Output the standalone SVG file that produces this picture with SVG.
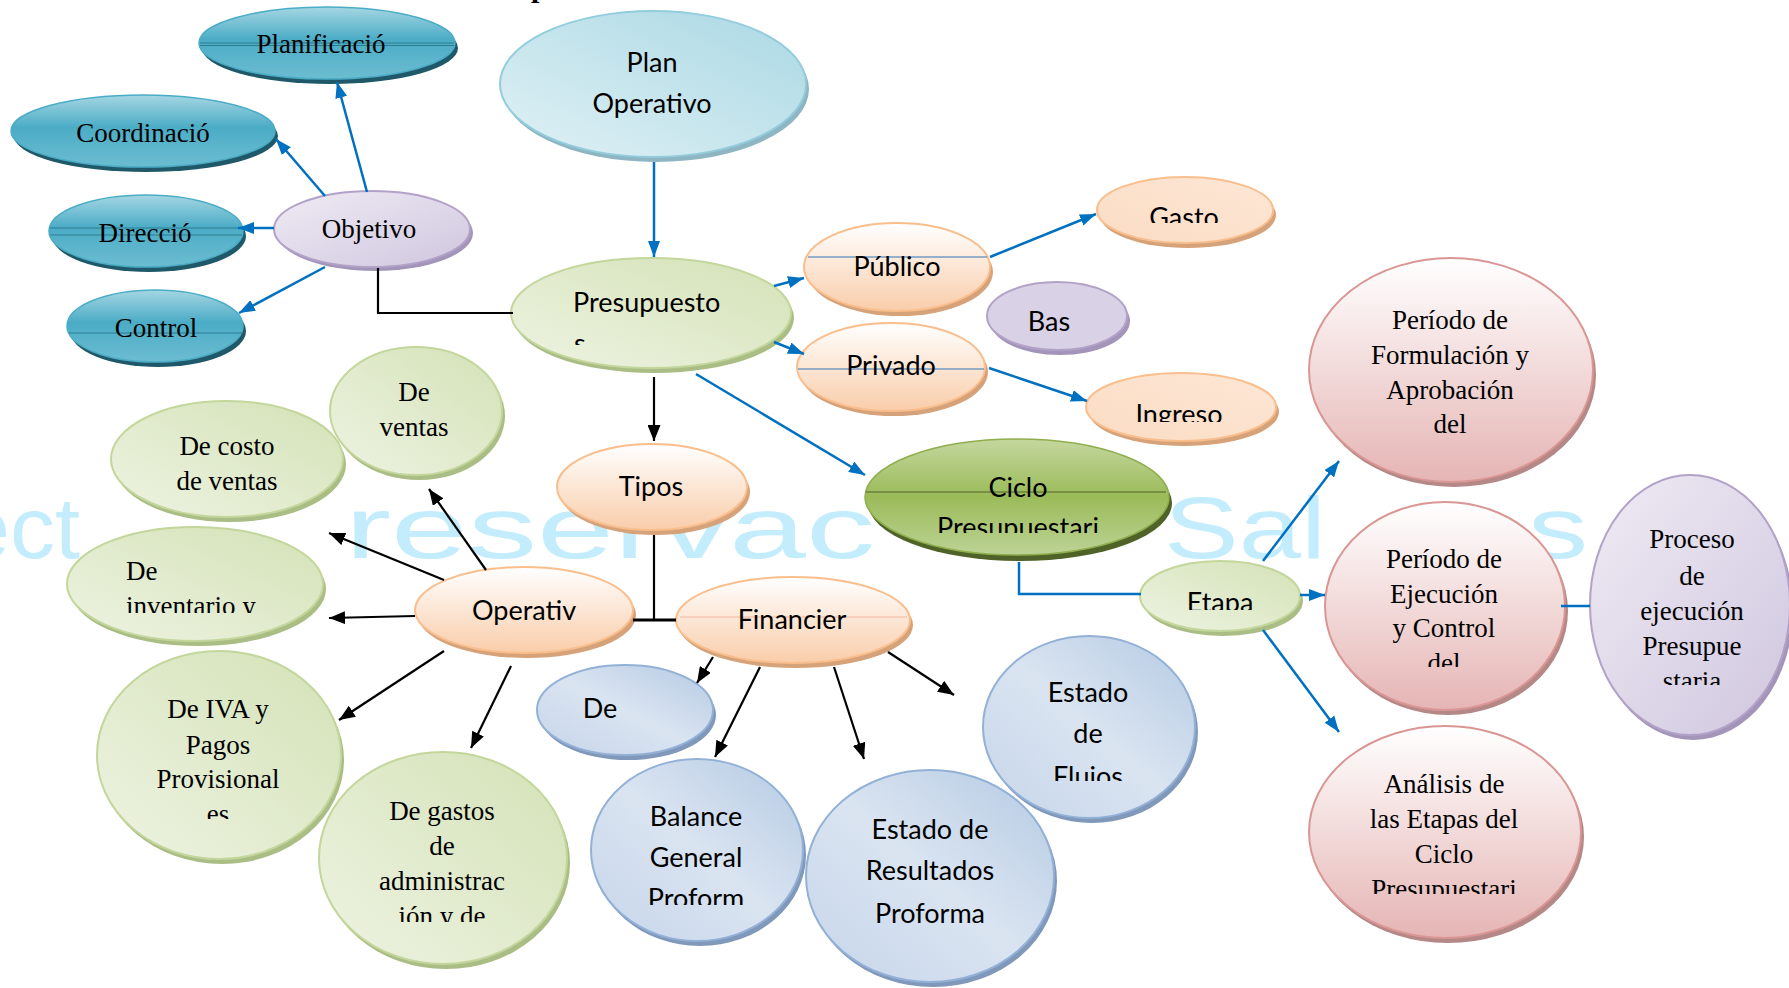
<svg xmlns="http://www.w3.org/2000/svg" width="1789" height="988" viewBox="0 0 1789 988">
<style>
.wm{font-family:"Liberation Sans",Arial,sans-serif;font-size:88px;fill:#C3ECFC}
.sf{font-family:"Liberation Serif","Times New Roman",serif;font-size:27px;fill:#000;text-anchor:middle}
.ss{font-family:Lato,"Liberation Sans",sans-serif;font-size:27px;fill:#000;text-anchor:middle}
.st{text-anchor:start}
.blue{stroke:#0070C0;stroke-width:2.5;fill:none}
.blk{stroke:#000;stroke-width:2.2;fill:none}
.ab{marker-end:url(#hb)}
.ak{marker-end:url(#hk)}
.teal{fill:url(#gTeal);stroke:#4BACC6;stroke-width:1.5}
.sh-teal{fill:#1F5868}
.lav{fill:url(#gLav);stroke:#B3A2C7;stroke-width:2}
.sh-lav{fill:#A394B9}
.lblue{fill:url(#gLblue);stroke:#93CDDD;stroke-width:2}
.sh-lblue{fill:#8EB6C2}
.lgreen{fill:url(#gLgreen);stroke:#C3D69B;stroke-width:2}
.sh-lgreen{fill:#A9BD84}
.peach{fill:url(#gPeach);stroke:#F9BE8C;stroke-width:2}
.peach2{fill:url(#gPeach2);stroke:#F9BE8C;stroke-width:2}
.sh-peach{fill:#D6A27A}
.green{fill:url(#gGreen);stroke:#8FAE4E;stroke-width:1.5}
.sh-green{fill:#4F6228}
.bl{fill:url(#gBlue);stroke:#93B1D6;stroke-width:2}
.sh-bl{fill:#8099BA}
.pink{fill:url(#gPink);stroke:#D99694;stroke-width:2}
.sh-pink{fill:#B48886}
.rule{stroke-width:1;fill:none}
</style>
<defs>
<linearGradient id="gTeal" x1="0" y1="0" x2="0" y2="1"><stop offset="0" stop-color="#A5D6E3"/><stop offset="0.45" stop-color="#4BACC6"/><stop offset="1" stop-color="#6CBDD1"/></linearGradient>
<linearGradient id="gLav" x1="0" y1="0" x2="1" y2="1"><stop offset="0" stop-color="#EFEBF4"/><stop offset="1" stop-color="#D0C6DF"/></linearGradient>
<linearGradient id="gLblue" x1="0" y1="1" x2="1" y2="0"><stop offset="0" stop-color="#E0F1F5"/><stop offset="1" stop-color="#AAD8E4"/></linearGradient>
<linearGradient id="gLgreen" x1="0" y1="1" x2="1" y2="0"><stop offset="0" stop-color="#EEF3E2"/><stop offset="1" stop-color="#D3E2B6"/></linearGradient>
<linearGradient id="gPeach" x1="0" y1="0" x2="0" y2="1"><stop offset="0" stop-color="#FFFFFF"/><stop offset="1" stop-color="#F9CDAA"/></linearGradient>
<linearGradient id="gPeach2" x1="0" y1="1" x2="1" y2="0"><stop offset="0" stop-color="#FBDCC3"/><stop offset="1" stop-color="#FDE7D6"/></linearGradient>
<linearGradient id="gGreen" x1="0" y1="0" x2="0" y2="1"><stop offset="0" stop-color="#C4D79E"/><stop offset="0.5" stop-color="#9BBB59"/><stop offset="1" stop-color="#BDD396"/></linearGradient>
<linearGradient id="gBlue" x1="1" y1="0" x2="0" y2="1"><stop offset="0" stop-color="#B4CAE3"/><stop offset="0.5" stop-color="#DAE4F1"/><stop offset="1" stop-color="#C5D5EA"/></linearGradient>
<linearGradient id="gPink" x1="0" y1="0" x2="0" y2="1"><stop offset="0" stop-color="#FFFFFF"/><stop offset="1" stop-color="#E5B5B4"/></linearGradient>
<marker id="hb" viewBox="0 0 16 12" refX="16" refY="6" markerWidth="16" markerHeight="12" markerUnits="userSpaceOnUse" orient="auto"><path d="M0,0 L16,6 L0,12 z" fill="#0070C0"/></marker>
<marker id="hk" viewBox="0 0 16 13" refX="16" refY="6.5" markerWidth="16" markerHeight="13" markerUnits="userSpaceOnUse" orient="auto"><path d="M0,0 L16,6.5 L0,13 z" fill="#000"/></marker>
<clipPath id="cPres"><rect x="500" y="250" width="300" height="95"/></clipPath>
<clipPath id="cGasto"><rect x="1090" y="170" width="190" height="53"/></clipPath>
<clipPath id="cIngreso"><rect x="1080" y="370" width="200" height="52"/></clipPath>
<clipPath id="cCiclo"><rect x="860" y="430" width="320" height="103"/></clipPath>
<clipPath id="cEtapa"><rect x="1135" y="555" width="170" height="55"/></clipPath>
<clipPath id="cBal"><rect x="585" y="755" width="225" height="150"/></clipPath>
<clipPath id="cFlujos"><rect x="980" y="630" width="220" height="151"/></clipPath>
<clipPath id="cInv"><rect x="60" y="520" width="270" height="93"/></clipPath>
<clipPath id="cIva"><rect x="90" y="645" width="260" height="174"/></clipPath>
<clipPath id="cGastos"><rect x="315" y="745" width="260" height="177"/></clipPath>
<clipPath id="cEjec"><rect x="1320" y="495" width="250" height="172"/></clipPath>
<clipPath id="cProc"><rect x="1585" y="470" width="204" height="215"/></clipPath>
<clipPath id="cAnal"><rect x="1305" y="720" width="280" height="174"/></clipPath>
</defs>

<rect width="1789" height="988" fill="#FFFFFF"/>

<!-- heading fragment above the frame -->
<text x="531" y="-3" style="font-family:'Liberation Serif',serif;font-size:30px;font-weight:bold">p</text>

<!-- background watermark -->
<g id="watermark">
<text class="wm" x="-40" y="558" textLength="120" lengthAdjust="spacingAndGlyphs">ect</text>
<text class="wm" x="345" y="558" textLength="530" lengthAdjust="spacingAndGlyphs">reservac</text>
<text class="wm" x="1164" y="558" textLength="162" lengthAdjust="spacingAndGlyphs">Sal</text>
<text class="wm" x="1528" y="558" textLength="60" lengthAdjust="spacingAndGlyphs">s</text>
</g>

<g id="planificacion">
<ellipse class="sh-teal" cx="330" cy="48" rx="128" ry="36"/>
<ellipse class="teal" cx="327" cy="43" rx="128" ry="36"/>
<path class="rule" stroke="#2C7C90" d="M200,43 H454 M200,45.5 H454"/>
<text class="sf" x="321" y="53">Planificació</text>
</g>
<g id="coordinacion">
<ellipse class="sh-teal" cx="146" cy="136" rx="132" ry="36"/>
<ellipse class="teal" cx="143" cy="131" rx="132" ry="36"/>
<text class="sf" x="143" y="142">Coordinació</text>
</g>
<g id="direccion">
<ellipse class="sh-teal" cx="149" cy="236" rx="97" ry="36"/>
<ellipse class="teal" cx="146" cy="231" rx="97" ry="36"/>
<path class="rule" stroke="#2C7C90" d="M50,228 H242 M50,235 H242"/>
<text class="sf" x="145" y="242">Direcció</text>
</g>
<g id="control">
<ellipse class="sh-teal" cx="158" cy="331" rx="88" ry="36"/>
<ellipse class="teal" cx="155" cy="326" rx="88" ry="36"/>
<path class="rule" stroke="#2C7C90" d="M69,333 H242"/>
<text class="sf" x="156" y="337">Control</text>
</g>
<g id="objetivo">
<ellipse class="sh-lav" cx="375" cy="233" rx="98" ry="38"/>
<ellipse class="lav" cx="372" cy="229" rx="98" ry="38"/>
<text class="sf" x="369" y="238">Objetivo</text>
</g>

<g id="plan-operativo">
<ellipse class="sh-lblue" cx="656" cy="89" rx="153" ry="73"/>
<ellipse class="lblue" cx="653" cy="84" rx="153" ry="73"/>
<text class="ss" x="652" y="72">Plan</text>
<text class="ss" x="652" y="113">Operativo</text>
</g>
<g id="presupuesto">
<ellipse class="sh-lgreen" cx="654" cy="318" rx="140" ry="55"/>
<ellipse class="lgreen" cx="651" cy="313" rx="140" ry="55"/>
<g clip-path="url(#cPres)">
<text class="ss st" x="573" y="312">Presupuesto</text>
<text class="ss st" x="574" y="353">s</text>
</g>
</g>
<g id="publico">
<ellipse class="sh-peach" cx="900" cy="272" rx="93" ry="44"/>
<ellipse class="peach" cx="897" cy="267" rx="93" ry="44"/>
<path class="rule" stroke="#2E75B6" d="M808,257 H987"/>
<text class="ss" x="897" y="276">Público</text>
</g>
<g id="privado">
<ellipse class="sh-peach" cx="894" cy="372" rx="94" ry="44"/>
<ellipse class="peach" cx="891" cy="367" rx="94" ry="44"/>
<path class="rule" stroke="#2E75B6" d="M798,369 H984"/>
<text class="ss" x="891" y="375">Privado</text>
</g>
<g id="gasto">
<ellipse class="sh-peach" cx="1188" cy="215" rx="88" ry="33"/>
<ellipse class="peach2" cx="1185" cy="210" rx="88" ry="33"/>
<text class="ss" x="1184" y="227" clip-path="url(#cGasto)">Gasto</text>
</g>
<g id="bas">
<ellipse class="sh-lav" cx="1060" cy="321" rx="70" ry="34"/>
<ellipse class="lav" cx="1057" cy="316" rx="70" ry="34" style="fill:#D9D1E6"/>
<text class="ss" x="1049" y="331">Bas</text>
</g>
<g id="ingreso">
<ellipse class="sh-peach" cx="1184" cy="412" rx="95" ry="34"/>
<ellipse class="peach2" cx="1181" cy="407" rx="95" ry="34"/>
<text class="ss" x="1179" y="424" clip-path="url(#cIngreso)">Ingreso</text>
</g>
<g id="ciclo">
<ellipse class="sh-green" cx="1020" cy="503" rx="152" ry="58"/>
<ellipse class="green" cx="1017" cy="497" rx="152" ry="58"/>
<path class="rule" stroke="#4F6228" d="M866,492 H1166"/>
<g clip-path="url(#cCiclo)">
<text class="ss" x="1018" y="497">Ciclo</text>
<text class="ss" x="1018" y="537">Presupuestari</text>
</g>
</g>
<g id="tipos">
<ellipse class="sh-peach" cx="655" cy="492" rx="95" ry="43"/>
<ellipse class="peach" cx="652" cy="487" rx="95" ry="43"/>
<text class="ss" x="651" y="496">Tipos</text>
</g>
<g id="operativ">
<ellipse class="sh-peach" cx="527" cy="615" rx="109" ry="43"/>
<ellipse class="peach" cx="524" cy="610" rx="109" ry="43"/>
<text class="ss" x="524" y="620">Operativ</text>
</g>
<g id="financier">
<ellipse class="sh-peach" cx="796" cy="625" rx="117" ry="43"/>
<ellipse class="peach" cx="793" cy="620" rx="117" ry="43"/>
<path class="rule" stroke="#F0B9A0" d="M680,617 H907"/>
<text class="ss" x="792" y="629">Financier</text>
</g>
<g id="de-fin">
<ellipse class="sh-bl" cx="628" cy="715" rx="88" ry="45"/>
<ellipse class="bl" cx="625" cy="710" rx="88" ry="45"/>
<text class="ss" x="600" y="718">De</text>
</g>
<g id="balance">
<ellipse class="sh-bl" cx="700" cy="855" rx="106" ry="91"/>
<ellipse class="bl" cx="697" cy="850" rx="106" ry="91"/>
<g clip-path="url(#cBal)">
<text class="ss" x="696" y="826">Balance</text>
<text class="ss" x="696" y="867">General</text>
<text class="ss" x="696" y="908">Proform</text>
</g>
</g>
<g id="estado-resultados">
<ellipse class="sh-bl" cx="933" cy="881" rx="124" ry="106"/>
<ellipse class="bl" cx="930" cy="876" rx="124" ry="106"/>
<text class="ss" x="930" y="839">Estado de</text>
<text class="ss" x="930" y="880">Resultados</text>
<text class="ss" x="930" y="923">Proforma</text>
</g>
<g id="estado-flujos">
<ellipse class="sh-bl" cx="1092" cy="732" rx="106" ry="91"/>
<ellipse class="bl" cx="1089" cy="727" rx="106" ry="91"/>
<g clip-path="url(#cFlujos)">
<text class="ss" x="1088" y="702">Estado</text>
<text class="ss" x="1088" y="743">de</text>
<text class="ss" x="1088" y="786">Fluios</text>
</g>
</g>
<g id="etapa">
<ellipse class="sh-lgreen" cx="1223" cy="601" rx="80" ry="35"/>
<ellipse class="lgreen" cx="1220" cy="596" rx="80" ry="35"/>
<text class="ss" x="1220" y="612" clip-path="url(#cEtapa)">Etapa</text>
</g>
<g id="formulacion">
<ellipse class="sh-pink" cx="1454" cy="375" rx="142" ry="112"/>
<ellipse class="pink" cx="1451" cy="370" rx="142" ry="112"/>
<text class="sf" x="1450" y="329">Período de</text>
<text class="sf" x="1450" y="364">Formulación y</text>
<text class="sf" x="1450" y="399">Aprobación</text>
<text class="sf" x="1450" y="433">del</text>
</g>
<g id="ejecucion">
<ellipse class="sh-pink" cx="1448" cy="611" rx="120" ry="104"/>
<ellipse class="pink" cx="1445" cy="606" rx="120" ry="104"/>
<g clip-path="url(#cEjec)">
<text class="sf" x="1444" y="568">Período de</text>
<text class="sf" x="1444" y="603">Ejecución</text>
<text class="sf" x="1444" y="637">y Control</text>
<text class="sf" x="1444" y="672">del</text>
</g>
</g>
<g id="proceso">
<ellipse class="sh-lav" cx="1693" cy="610" rx="100" ry="130"/>
<ellipse class="lav" cx="1690" cy="605" rx="100" ry="130"/>
<g clip-path="url(#cProc)">
<text class="sf" x="1692" y="548">Proceso</text>
<text class="sf" x="1692" y="585">de</text>
<text class="sf" x="1692" y="620">ejecución</text>
<text class="sf" x="1692" y="655">Presupue</text>
<text class="sf" x="1692" y="690">staria</text>
</g>
</g>
<g id="analisis">
<ellipse class="sh-pink" cx="1448" cy="837" rx="136" ry="106"/>
<ellipse class="pink" cx="1445" cy="832" rx="136" ry="106"/>
<g clip-path="url(#cAnal)">
<text class="sf" x="1444" y="793">Análisis de</text>
<text class="sf" x="1444" y="828">las Etapas del</text>
<text class="sf" x="1444" y="863">Ciclo</text>
<text class="sf" x="1444" y="898">Presupuestari</text>
</g>
</g>
<g id="de-ventas">
<ellipse class="sh-lgreen" cx="419" cy="416" rx="86" ry="64"/>
<ellipse class="lgreen" cx="416" cy="411" rx="86" ry="64"/>
<text class="sf" x="414" y="401">De</text>
<text class="sf" x="414" y="436">ventas</text>
</g>
<g id="de-costo">
<ellipse class="sh-lgreen" cx="230" cy="464" rx="116" ry="58"/>
<ellipse class="lgreen" cx="227" cy="459" rx="116" ry="58"/>
<text class="sf" x="227" y="455">De costo</text>
<text class="sf" x="227" y="490">de ventas</text>
</g>
<g id="de-inventario">
<ellipse class="sh-lgreen" cx="198" cy="589" rx="128" ry="57"/>
<ellipse class="lgreen" cx="195" cy="584" rx="128" ry="57"/>
<g clip-path="url(#cInv)">
<text class="sf st" x="126" y="580">De</text>
<text class="sf st" x="126" y="615">inventario y</text>
</g>
</g>
<g id="de-iva">
<ellipse class="sh-lgreen" cx="222" cy="760" rx="122" ry="104"/>
<ellipse class="lgreen" cx="219" cy="755" rx="122" ry="104"/>
<g clip-path="url(#cIva)">
<text class="sf" x="218" y="718">De IVA y</text>
<text class="sf" x="218" y="754">Pagos</text>
<text class="sf" x="218" y="788">Provisional</text>
<text class="sf" x="218" y="823">es</text>
</g>
</g>
<g id="de-gastos">
<ellipse class="sh-lgreen" cx="446" cy="863" rx="124" ry="106"/>
<ellipse class="lgreen" cx="443" cy="858" rx="124" ry="106"/>
<g clip-path="url(#cGastos)">
<text class="sf" x="442" y="820">De gastos</text>
<text class="sf" x="442" y="855">de</text>
<text class="sf" x="442" y="890">administrac</text>
<text class="sf" x="442" y="925">ión y de</text>
</g>
</g>

<g id="connectors">
<line class="blue ab" x1="367" y1="192" x2="337" y2="82"/>
<line class="blue ab" x1="325" y1="196" x2="276" y2="139"/>
<line class="blue ab" x1="274" y1="228" x2="238" y2="228"/>
<line class="blue ab" x1="325" y1="267" x2="239" y2="313"/>
<line class="blue ab" x1="654" y1="162" x2="654" y2="257"/>
<line class="blue ab" x1="774" y1="286" x2="804" y2="278"/>
<line class="blue ab" x1="774" y1="342" x2="804" y2="354"/>
<line class="blue ab" x1="990" y1="257" x2="1096" y2="214"/>
<line class="blue ab" x1="989" y1="368" x2="1087" y2="401"/>
<line class="blue ab" x1="696" y1="374" x2="865" y2="475"/>
<polyline class="blue" points="1019,562 1019,594 1141,594"/>
<line class="blue ab" x1="1263" y1="561" x2="1339" y2="461"/>
<line class="blue ab" x1="1300" y1="595" x2="1325" y2="595"/>
<line class="blue ab" x1="1263" y1="630" x2="1339" y2="732"/>
<line class="blue" x1="1561" y1="606" x2="1590" y2="606"/>
<polyline class="blk" points="378,268 378,313 513,313"/>
<line class="blk ak" x1="654" y1="377" x2="654" y2="441"/>
<line class="blk" x1="654" y1="535" x2="654" y2="620"/>
<line class="blk" x1="633" y1="620" x2="676" y2="620" style="stroke-width:3.2"/>
<line class="blk ak" x1="486" y1="570" x2="429" y2="489"/>
<line class="blk ak" x1="444" y1="580" x2="329" y2="533"/>
<line class="blk ak" x1="415" y1="616" x2="329" y2="618"/>
<line class="blk ak" x1="444" y1="651" x2="339" y2="720"/>
<line class="blk ak" x1="511" y1="666" x2="471" y2="748"/>
<line class="blk ak" x1="713" y1="657" x2="697" y2="683"/>
<line class="blk ak" x1="760" y1="667" x2="715" y2="757"/>
<line class="blk ak" x1="834" y1="667" x2="864" y2="759"/>
<line class="blk ak" x1="888" y1="652" x2="954" y2="695"/>
</g>
</svg>
